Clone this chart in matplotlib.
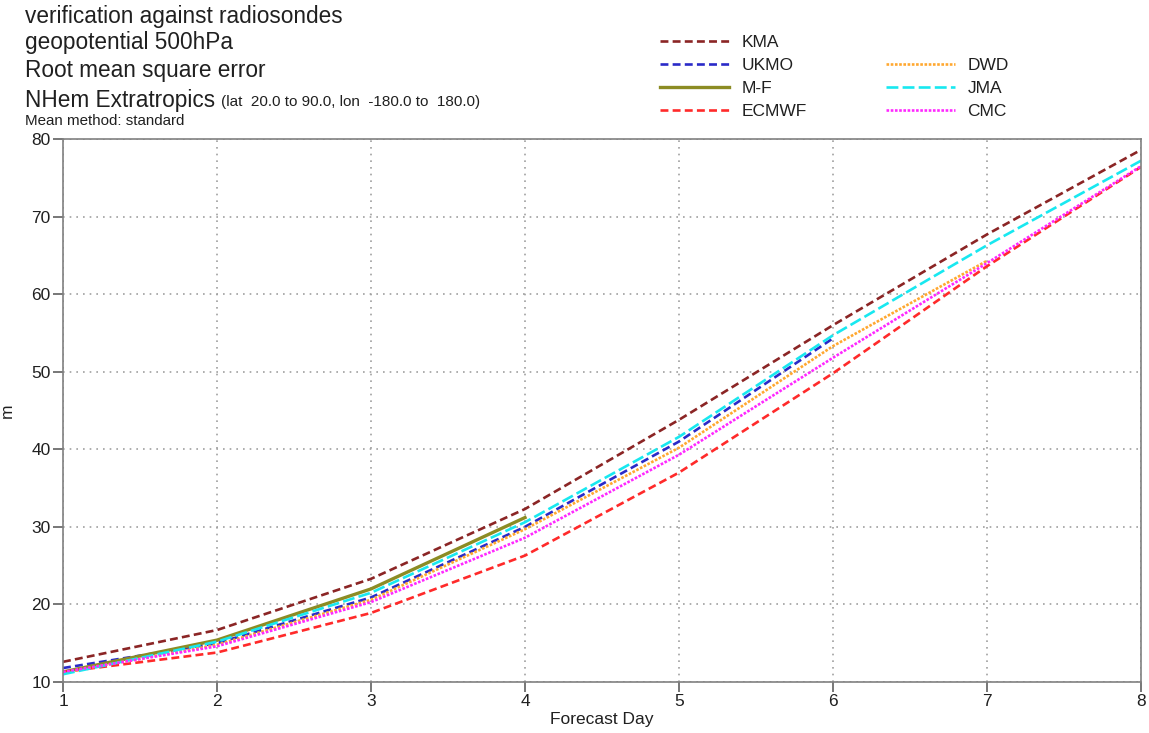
import matplotlib
matplotlib.use("Agg")
import matplotlib.pyplot as plt
from matplotlib.lines import Line2D

plt.rcParams['font.family'] = ['Liberation Sans', 'DejaVu Sans']

days_full = [1, 2, 3, 4, 5, 6, 7, 8]
kma   = [12.6, 16.7, 23.3, 32.3, 43.8, 56.0, 67.7, 78.6]
ukmo  = [11.8, 15.0, 20.9, 30.0, 41.0, 54.3]
mf    = [11.3, 15.4, 22.0, 31.2]
ecmwf = [11.3, 13.8, 18.9, 26.3, 37.0, 49.8, 63.6, 76.4]
dwd   = [11.2, 14.8, 20.6, 29.7, 40.2, 53.3, 64.3]
jma   = [11.0, 15.2, 21.5, 30.6, 41.6, 54.7, 66.3, 77.2]
cmc   = [11.3, 14.6, 20.3, 28.6, 39.3, 51.8, 64.0, 76.5]

title_lines = ["verification against radiosondes", "geopotential 500hPa",
               "Root mean square error"]

fig = plt.figure(figsize=(11.49, 7.33), dpi=100)
ax = fig.add_axes([63/1149, 1-682/733, (1141-63)/1149, (682-139)/733])

lw = 1.9
ax.plot(days_full, kma, color='#8b2525', ls=(0, (3, 1.6)), lw=lw, label='KMA')
ax.plot(days_full[:len(ukmo)], ukmo, color='#2a2ac8', ls=(0, (3, 1.6)), lw=lw, label='UKMO')
ax.plot(days_full[:len(mf)], mf, color='#8c8c24', ls='-', lw=2.4, label='M-F')
ax.plot(days_full, ecmwf, color='#ff2a2a', ls=(0, (3, 1.6)), lw=lw, label='ECMWF')
ax.plot(days_full[:len(dwd)], dwd, color='#ffa830', ls=(0, (1, 0.6)), lw=lw, label='DWD')
ax.plot(days_full, jma, color='#18e8f0', ls=(0, (4.5, 1.6)), lw=lw, label='JMA')
ax.plot(days_full, cmc, color='#ff28ff', ls=(0, (1, 0.6)), lw=lw, label='CMC')

ax.set_xlim(1, 8)
ax.set_ylim(10, 80)
ax.set_xticks(days_full)
ax.set_yticks(range(10, 81, 10))
ax.grid(True, ls=(0, (1, 3)), color='#a0a0a0', lw=1.2)
for s in ax.spines.values():
    s.set_color('#808080')
    s.set_linewidth(1.2)
ax.tick_params(direction='out', length=7, width=1.2, color='#606060',
               labelsize=12.5, labelcolor='#202020', pad=2)
ax.set_xlabel('Forecast Day', fontsize=12.5, labelpad=2, color='#202020')
ax.set_ylabel('m', fontsize=12.5, labelpad=12, color='#202020')

ys = [16, 43, 71]
for t, y in zip(title_lines, ys):
    fig.text(25/1149, 1-y/733, t, fontsize=16.3, va='center', ha='left', color='#202020')
fig.text(25/1149, 1-100/733, "NHem Extratropics", fontsize=16.3, va='center', ha='left', color='#202020')
fig.text(221/1149, 1-102/733, "(lat  20.0 to 90.0, lon  -180.0 to  180.0)", fontsize=11,
         va='center', ha='left', color='#202020')
fig.text(25/1149, 1-121/733, "Mean method: standard", fontsize=10.9, va='center', ha='left', color='#202020')

h, l = ax.get_legend_handles_labels()
blank = Line2D([], [], color='none')
order_h = [h[0], h[1], h[2], h[3], blank, h[4], h[5], h[6]]
order_l = [l[0], l[1], l[2], l[3], '', l[4], l[5], l[6]]
leg = fig.legend(order_h, order_l, ncol=2, loc='upper left',
                 bbox_to_anchor=(660/1149, 1-35/733), frameon=False, fontsize=12.5,
                 handlelength=4.0, handletextpad=0.7, columnspacing=4.55,
                 labelspacing=0.45, borderaxespad=0, borderpad=0)
for t in leg.get_texts():
    t.set_color('#202020')

fig.savefig('out.png', dpi=100)
